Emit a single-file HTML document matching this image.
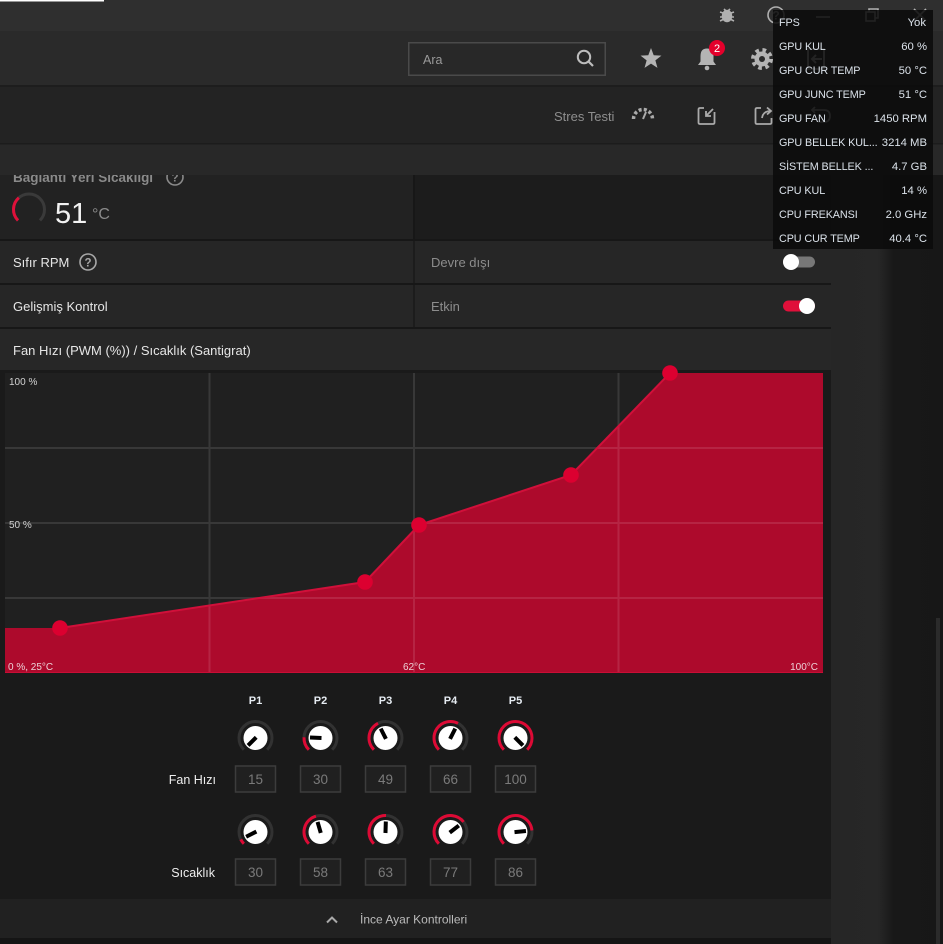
<!DOCTYPE html>
<html><head><meta charset="utf-8"><style>
html,body{margin:0;padding:0;background:#1a1a1a;overflow:hidden;width:943px;height:944px}
svg{display:block}
text{font-family:"Liberation Sans","DejaVu Sans",sans-serif}
</style></head><body>
<svg width="943" height="944" viewBox="0 0 943 944" xmlns="http://www.w3.org/2000/svg">
<defs>
<linearGradient id="rc" x1="0" x2="1" y1="0" y2="0">
<stop offset="0" stop-color="#262626"/><stop offset="0.42" stop-color="#272727"/><stop offset="0.56" stop-color="#181818"/><stop offset="1" stop-color="#171717"/>
</linearGradient>
</defs>
<rect width="943" height="944" fill="#1a1a1a"/>
<!-- right column -->
<rect x="831" y="143" width="112" height="801" fill="url(#rc)"/>
<rect x="936" y="618" width="4" height="326" fill="#2b2b2b"/>
<!-- main panel base -->
<rect x="0" y="175" width="831" height="724" fill="#171717"/>
<rect x="0" y="175" width="413" height="64" fill="#222222"/>
<rect x="415" y="175" width="416" height="64" fill="#1c1c1c"/>
<rect x="0" y="241" width="831" height="42" fill="#262626"/>
<rect x="413" y="241" width="2" height="42" fill="#1c1c1c"/>
<rect x="0" y="285" width="831" height="42" fill="#262626"/>
<rect x="413" y="285" width="2" height="42" fill="#1c1c1c"/>
<rect x="0" y="329" width="831" height="41" fill="#272727"/>
<rect x="0" y="370" width="831" height="529" fill="#1a1a1a"/>
<rect x="0" y="899" width="831" height="39" fill="#212121"/>
<rect x="0" y="938" width="831" height="6" fill="#151515"/>

<!-- temp row -->
<text x="13" y="182" font-size="13.5" font-weight="bold" fill="#8a8a8a">Bağlantı Yeri Sıcaklığı</text>
<circle cx="175" cy="177" r="8" fill="none" stroke="#8a8a8a" stroke-width="1.6"/>
<text x="175" y="181.5" font-size="11.5" font-weight="bold" fill="#8a8a8a" text-anchor="middle">?</text>
<path d="M18.04,220.46 A15.5,15.5 0 1 1 39.96,220.46" fill="none" stroke="#3a3a3a" stroke-width="3"/>
<path d="M18.04,220.46 A15.5,15.5 0 0 1 18.83,197.8" fill="none" stroke="#e0103a" stroke-width="3"/>
<text x="55" y="223" font-size="29" fill="#f2f2f2">51</text>
<text x="92" y="219" font-size="16" fill="#8a8a8a">°C</text>

<!-- title bar / header / toolbar -->
<rect x="0" y="0" width="943" height="31" fill="#2f2f2f"/>
<rect x="0" y="0" width="104" height="1.5" fill="#ffffff"/>
<rect x="0" y="31" width="943" height="54" fill="#2a2a2a"/>
<rect x="0" y="85" width="943" height="58" fill="#232323"/>
<rect x="0" y="85" width="943" height="2" fill="#1d1d1d"/>
<rect x="0" y="143" width="943" height="32" fill="#282828"/>
<rect x="0" y="143" width="943" height="1.5" fill="#1c1c1c"/>

<!-- title bar icons -->
<g stroke="#b0b0b0" fill="none" stroke-width="1.6">
<ellipse cx="727" cy="16" rx="4.5" ry="5.5" fill="#b0b0b0"/>
<path d="M720,12 L723,13 M720,17 L722.5,17 M720,21 L723,19.5 M734,12 L731,13 M734,17 L731.5,17 M734,21 L731,19.5 M724,9 L725.5,10.5 M730,9 L728.5,10.5"/>
<circle cx="776" cy="15" r="8"/>
<path d="M816,17 L830,17"/>
<rect x="866" y="12" width="9" height="9"/><path d="M869,12 L869,9 L878,9 L878,18 L875,18"/>
<path d="M914,9 L926,21 M926,9 L914,21"/>
</g>
<text x="776" y="19.5" font-size="12" font-weight="bold" fill="#b0b0b0" text-anchor="middle">?</text>

<!-- header -->
<rect x="408.75" y="42.75" width="196.5" height="32.5" fill="#282828" stroke="#4a4a4a" stroke-width="1.5"/>
<text x="423" y="64" font-size="12.5" fill="#9a9a9a">Ara</text>
<circle cx="584" cy="57" r="6.2" fill="none" stroke="#bdbdbd" stroke-width="2"/>
<path d="M588.5,61.5 L593,66" stroke="#bdbdbd" stroke-width="2.2"/>
<polygon points="651,48 653.7,55.28 661.46,55.6 655.37,60.42 657.47,67.9 651,63.6 644.53,67.9 646.63,60.42 640.54,55.6 648.3,55.28" fill="#b4b4b4"/>
<path d="M698,65 L700.5,61.5 L700.5,56 Q700.5,48.5 707,48.5 Q713.5,48.5 713.5,56 L713.5,61.5 L716,65 Z" fill="#b4b4b4"/>
<circle cx="707" cy="68" r="2.3" fill="#b4b4b4"/>
<circle cx="717" cy="48" r="8" fill="#e4002b"/>
<text x="717" y="52" font-size="11" fill="#ffffff" text-anchor="middle">2</text>
<circle cx="762" cy="59" r="9" fill="none" stroke="#b4b4b4" stroke-width="4" stroke-dasharray="3.6 3.5"/>
<circle cx="762" cy="59" r="7.5" fill="#b4b4b4"/>
<circle cx="762" cy="59" r="3" fill="#2a2a2a"/>
<path d="M808,49 L824,49 L824,69 L808,69 Z M812,59 L822,59 M816,55 L812,59 L816,63" fill="none" stroke="#b4b4b4" stroke-width="2"/>

<!-- toolbar -->
<text x="554" y="121" font-size="13" fill="#8e8e8e">Stres Testi</text>
<path d="M633.5,119 A9.5,9.5 0 0 1 652.5,119" fill="none" stroke="#aaaaaa" stroke-width="3.5" stroke-dasharray="3 2.2"/>
<path d="M643,119 L646,112" stroke="#aaaaaa" stroke-width="2"/>
<g fill="none" stroke="#aaaaaa" stroke-width="1.8">
<path d="M704,108 L700,108 Q698.5,108 698.5,109.5 L698.5,122.5 Q698.5,124 700,124 L713,124 Q714.5,124 714.5,122.5 L714.5,112"/>
<path d="M713,109 L706,116 M706,111 L706,116 L711,116"/>
<path d="M761,108 L757,108 Q755.5,108 755.5,109.5 L755.5,122.5 Q755.5,124 757,124 L770,124 Q771.5,124 771.5,122.5 L771.5,118"/>
<path d="M762,118 Q763,111 771,111 M767,107.5 L771,111 L767,114.5"/>
<path d="M812,110 L824,110 Q830,110 830,116 Q830,122 824,122 L818,122 M815,107 L812,110 L815,113"/>
</g>

<!-- rows -->
<text x="13" y="267" font-size="13" fill="#e6e6e6">Sıfır RPM</text>
<circle cx="88" cy="262" r="8" fill="none" stroke="#a8a8a8" stroke-width="1.6"/>
<text x="88" y="266.5" font-size="11.5" font-weight="bold" fill="#a8a8a8" text-anchor="middle">?</text>
<text x="431" y="267" font-size="13" fill="#8c8c8c">Devre dışı</text>
<rect x="783" y="256.5" width="32" height="11" rx="5.5" fill="#777777"/>
<circle cx="791" cy="262" r="8" fill="#ffffff"/>
<text x="13" y="311" font-size="13" fill="#e6e6e6">Gelişmiş Kontrol</text>
<text x="431" y="311" font-size="13" fill="#8c8c8c">Etkin</text>
<rect x="783" y="300.5" width="32" height="11" rx="5.5" fill="#e0103a"/>
<circle cx="807" cy="306" r="8" fill="#ffffff"/>
<text x="13" y="355" font-size="13" fill="#e6e6e6">Fan Hızı (PWM (%)) / Sıcaklık (Santigrat)</text>

<!-- chart -->
<rect x="5" y="373" width="818" height="300" fill="#202020"/>
<polygon points="5,673 5,628 60,628 365,582 419,525 571,475 670,373 823,373 823,673" fill="#ad0a2c"/>
<g stroke="rgba(255,255,255,0.11)" stroke-width="2">
<path d="M209.5,373 L209.5,673 M414,373 L414,673 M618.5,373 L618.5,673 M5,448 L823,448 M5,523 L823,523 M5,598 L823,598"/>
</g>
<polyline points="60,628 365,582 419,525 571,475 670,373" fill="none" stroke="#d0103a" stroke-width="2"/>
<path d="M5,672.5 L823,672.5" stroke="#c80d35" stroke-width="1"/>
<g fill="#dc0030">
<circle cx="60" cy="628" r="7.8"/><circle cx="365" cy="582" r="7.8"/><circle cx="419" cy="525" r="7.8"/><circle cx="571" cy="475" r="7.8"/><circle cx="670" cy="373" r="7.8"/>
</g>
<g font-size="10" fill="#d2d2d2">
<text x="9" y="385">100 %</text>
<text x="9" y="528">50 %</text>
<text x="8" y="670" fill="#ecd0d6">0 %, 25°C</text>
<text x="403" y="670" fill="#ecd0d6">62°C</text>
<text x="818" y="670" fill="#ecd0d6" text-anchor="end">100°C</text>
</g>

<!-- knobs -->
<g font-size="11" font-weight="bold" fill="#e6ecf2" text-anchor="middle">
<text x="255.5" y="704">P1</text><text x="320.5" y="704">P2</text><text x="385.5" y="704">P3</text><text x="450.5" y="704">P4</text><text x="515.5" y="704">P5</text>
</g>
<g fill="none" stroke-width="3">
<!-- fan row -->
<g transform="translate(255.5,738)"><path d="M-11.67,11.67 A16.5,16.5 0 1 1 11.67,11.67" stroke="#323232"/><circle r="12" fill="#fff" stroke="none"/><path d="M0.71,-0.71 L-7.42,7.42" stroke="#000" stroke-width="4"/></g>
<g transform="translate(320.5,738)"><path d="M-11.67,11.67 A16.5,16.5 0 1 1 11.67,11.67" stroke="#323232"/><path d="M-11.67,11.67 A16.5,16.5 0 0 1 -16.48,-0.74" stroke="#dd0a35"/><circle r="12" fill="#fff" stroke="none"/><path d="M1,0.05 L-10.49,-0.47" stroke="#000" stroke-width="4"/></g>
<g transform="translate(385.5,738)"><path d="M-11.67,11.67 A16.5,16.5 0 1 1 11.67,11.67" stroke="#323232"/><path d="M-11.67,11.67 A16.5,16.5 0 0 1 -7.49,-14.70" stroke="#dd0a35"/><circle r="12" fill="#fff" stroke="none"/><path d="M0.45,0.89 L-4.77,-9.36" stroke="#000" stroke-width="4"/></g>
<g transform="translate(450.5,738)"><path d="M-11.67,11.67 A16.5,16.5 0 1 1 11.67,11.67" stroke="#323232"/><path d="M-11.67,11.67 A16.5,16.5 0 0 1 7.49,-14.70" stroke="#dd0a35"/><circle r="12" fill="#fff" stroke="none"/><path d="M-0.45,0.89 L4.77,-9.36" stroke="#000" stroke-width="4"/></g>
<g transform="translate(515.5,738)"><path d="M-11.67,11.67 A16.5,16.5 0 1 1 11.67,11.67" stroke="#dd0a35"/><circle r="12" fill="#fff" stroke="none"/><path d="M-0.71,-0.71 L7.42,7.42" stroke="#000" stroke-width="4"/></g>
<!-- temp row -->
<g transform="translate(255.5,832)"><path d="M-11.67,11.67 A16.5,16.5 0 1 1 11.67,11.67" stroke="#323232"/><path d="M-11.67,11.67 A16.5,16.5 0 0 1 -14.70,7.49" stroke="#dd0a35"/><circle r="12" fill="#fff" stroke="none"/><path d="M0.89,-0.45 L-9.36,4.77" stroke="#000" stroke-width="4"/></g>
<g transform="translate(320.5,832)"><path d="M-11.67,11.67 A16.5,16.5 0 1 1 11.67,11.67" stroke="#323232"/><path d="M-11.67,11.67 A16.5,16.5 0 0 1 -4.60,-15.84" stroke="#dd0a35"/><circle r="12" fill="#fff" stroke="none"/><path d="M0.28,0.96 L-2.93,-10.08" stroke="#000" stroke-width="4"/></g>
<g transform="translate(385.5,832)"><path d="M-11.67,11.67 A16.5,16.5 0 1 1 11.67,11.67" stroke="#323232"/><path d="M-11.67,11.67 A16.5,16.5 0 0 1 0.51,-16.49" stroke="#dd0a35"/><circle r="12" fill="#fff" stroke="none"/><path d="M-0.03,1 L0.33,-10.5" stroke="#000" stroke-width="4"/></g>
<g transform="translate(450.5,832)"><path d="M-11.67,11.67 A16.5,16.5 0 1 1 11.67,11.67" stroke="#323232"/><path d="M-11.67,11.67 A16.5,16.5 0 1 1 13.04,-10.11" stroke="#dd0a35"/><circle r="12" fill="#fff" stroke="none"/><path d="M-0.79,0.61 L8.30,-6.44" stroke="#000" stroke-width="4"/></g>
<g transform="translate(515.5,832)"><path d="M-11.67,11.67 A16.5,16.5 0 1 1 11.67,11.67" stroke="#323232"/><path d="M-11.67,11.67 A16.5,16.5 0 1 1 16.42,-1.55" stroke="#dd0a35"/><circle r="12" fill="#fff" stroke="none"/><path d="M-1,0.09 L10.45,-0.99" stroke="#000" stroke-width="4"/></g>
</g>
<g fill="#202020" stroke="#3c3c3c" stroke-width="1.5">
<rect x="235.5" y="766" width="40" height="26"/><rect x="300.5" y="766" width="40" height="26"/><rect x="365.5" y="766" width="40" height="26"/><rect x="430.5" y="766" width="40" height="26"/><rect x="495.5" y="766" width="40" height="26"/>
<rect x="235.5" y="859" width="40" height="26"/><rect x="300.5" y="859" width="40" height="26"/><rect x="365.5" y="859" width="40" height="26"/><rect x="430.5" y="859" width="40" height="26"/><rect x="495.5" y="859" width="40" height="26"/>
</g>
<g font-size="13.5" fill="#7a7a7a" text-anchor="middle">
<text x="255.5" y="784">15</text><text x="320.5" y="784">30</text><text x="385.5" y="784">49</text><text x="450.5" y="784">66</text><text x="515.5" y="784">100</text>
<text x="255.5" y="877">30</text><text x="320.5" y="877">58</text><text x="385.5" y="877">63</text><text x="450.5" y="877">77</text><text x="515.5" y="877">86</text>
</g>
<text x="216" y="784" font-size="12.5" fill="#eeeeee" text-anchor="end">Fan Hızı</text>
<text x="215" y="877" font-size="12.5" fill="#eeeeee" text-anchor="end">Sıcaklık</text>

<!-- bottom bar -->
<polyline points="327,922.5 332,917.5 337,922.5" fill="none" stroke="#aaaaaa" stroke-width="2"/>
<text x="360" y="923.5" font-size="12" fill="#bbbbbb">İnce Ayar Kontrolleri</text>

<!-- overlay -->
<rect x="773" y="10" width="160" height="239" fill="rgba(10,10,10,0.86)"/>
<g font-size="10.8" fill="#dbe2ea" letter-spacing="-0.1">
<text x="779" y="26">FPS</text>
<text x="779" y="50">GPU KUL</text>
<text x="779" y="74">GPU CUR TEMP</text>
<text x="779" y="98">GPU JUNC TEMP</text>
<text x="779" y="122">GPU FAN</text>
<text x="779" y="146">GPU BELLEK KUL...</text>
<text x="779" y="170">SİSTEM BELLEK ...</text>
<text x="779" y="194">CPU KUL</text>
<text x="779" y="218">CPU FREKANSI</text>
<text x="779" y="242">CPU CUR TEMP</text>
</g>
<g font-size="11.3" fill="#dbe2ea" text-anchor="end">
<text x="926" y="26">Yok</text>
<text x="927" y="50">60 %</text>
<text x="927" y="74">50 °C</text>
<text x="927" y="98">51 °C</text>
<text x="927" y="122">1450 RPM</text>
<text x="927" y="146">3214 MB</text>
<text x="927" y="170">4.7 GB</text>
<text x="927" y="194">14 %</text>
<text x="927" y="218">2.0 GHz</text>
<text x="927" y="242">40.4 °C</text>
</g>
</svg>
</body></html>
